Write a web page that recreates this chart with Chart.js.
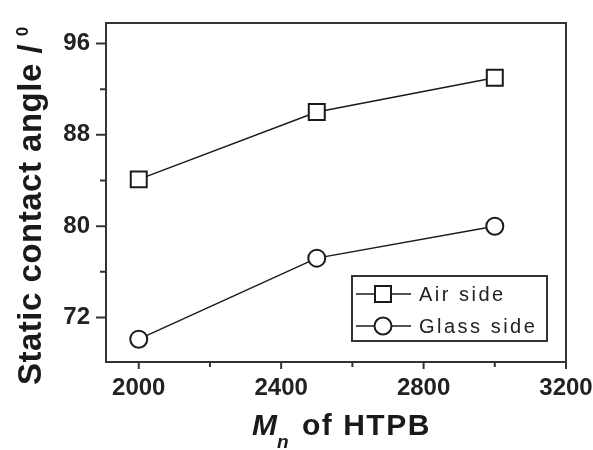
<!DOCTYPE html>
<html>
<head>
<meta charset="utf-8">
<script src="https://cdn.jsdelivr.net/npm/chart.js@4/dist/chart.umd.min.js"></script>
<style>
  html, body { margin: 0; padding: 0; background: #fff; }
  #wrap { width: 593px; height: 450px; }
</style>
</head>
<body>
<div id="wrap"><canvas id="c"></canvas></div>
<script>
// values
const molWeights = [2000, 2500, 3000]
const airSide = [84.1, 90.0, 93.0]
const glassSide = [70.1, 77.2, 80.0]
const xMajor = [2000, 2400, 2800, 3200]
const xMinor = [2200, 2600, 3000]
const yMajor = [72, 80, 88, 96]
const yMinor = [76, 84, 92]
const seriesNames = ['Air side', 'Glass side']

const ink = '#1a1a1a'
const frame = '#333'

function drawMarker(ctx, style, x, y) {
  ctx.save()
  ctx.fillStyle = '#fff'
  ctx.strokeStyle = ink
  ctx.lineWidth = 2
  ctx.beginPath()
  if (style === 'rect') ctx.rect(x - 8, y - 8, 16, 16)
  else ctx.arc(x, y, 8.5, 0, Math.PI * 2)
  ctx.fill()
  ctx.stroke()
  ctx.restore()
}

const axesPlugin = {
  id: 'axesPlugin',
  afterDraw(chart) {
    const { ctx, chartArea: a, scales } = chart
    const xs = scales.x, ys = scales.y
    ctx.save()
    // frame
    ctx.strokeStyle = frame
    ctx.lineWidth = 2
    ctx.strokeRect(a.left, a.top, a.right - a.left, a.bottom - a.top)
    // ticks, pointing out
    ctx.beginPath()
    xMajor.forEach(v => { const p = xs.getPixelForValue(v); ctx.moveTo(p, a.bottom); ctx.lineTo(p, a.bottom + 7) })
    xMinor.forEach(v => { const p = xs.getPixelForValue(v); ctx.moveTo(p, a.bottom); ctx.lineTo(p, a.bottom + 5) })
    yMajor.forEach(v => { const p = ys.getPixelForValue(v); ctx.moveTo(a.left, p); ctx.lineTo(a.left - 10, p) })
    yMinor.forEach(v => { const p = ys.getPixelForValue(v); ctx.moveTo(a.left, p); ctx.lineTo(a.left - 6, p) })
    ctx.stroke()

    // legend
    ctx.lineWidth = 2
    ctx.strokeRect(352, 276, 195, 65)
    const rows = [294, 326]
    const styles = ['rect', 'circle']
    rows.forEach((ry, i) => {
      ctx.strokeStyle = ink
      ctx.lineWidth = 1.5
      ctx.beginPath()
      ctx.moveTo(356, ry)
      ctx.lineTo(411, ry)
      ctx.stroke()
      drawMarker(ctx, styles[i], 383, ry)
      ctx.fillStyle = '#222'
      ctx.font = '20px "Liberation Sans", Arial, sans-serif'
      ctx.letterSpacing = '2.5px'
      ctx.textBaseline = 'middle'
      ctx.textAlign = 'left'
      ctx.fillText(seriesNames[i], 419, ry + 1)
    })

    // x title: M_n of HTPB
    ctx.fillStyle = ink
    ctx.textBaseline = 'alphabetic'
    ctx.letterSpacing = '0px'
    ctx.font = 'italic bold 30px "Liberation Sans", Arial, sans-serif'
    ctx.fillText('M', 252, 435)
    ctx.font = 'italic bold 19px "Liberation Sans", Arial, sans-serif'
    ctx.fillText('n', 277, 448)
    ctx.font = 'bold 30px "Liberation Sans", Arial, sans-serif'
    ctx.letterSpacing = '1.5px'
    ctx.fillText('of HTPB', 302, 435)

    // y title, rotated
    ctx.save()
    ctx.translate(41, 385)
    ctx.rotate(-Math.PI / 2)
    ctx.letterSpacing = '0.5px'
    ctx.font = 'bold 33px "Liberation Sans", Arial, sans-serif'
    const main = 'Static contact angle / '
    ctx.fillText(main, 0, 0)
    const w = ctx.measureText(main).width
    ctx.font = 'bold 17px "Liberation Sans", Arial, sans-serif'
    ctx.fillText('0', w - 2, -13)
    ctx.restore()

    ctx.restore()
  }
}

const tickFont = { family: '"Liberation Sans", Arial, sans-serif', size: 24, weight: 'bold' }

new Chart(document.getElementById('c'), {
  type: 'line',
  data: {
    datasets: [
      {
        label: seriesNames[0],
        data: molWeights.map((m, i) => ({ x: m, y: airSide[i] })),
        borderColor: ink,
        borderWidth: 1.5,
        pointStyle: 'rect',
        pointRadius: 11.3,
        pointBackgroundColor: '#fff',
        pointBorderColor: ink,
        pointBorderWidth: 2
      },
      {
        label: seriesNames[1],
        data: molWeights.map((m, i) => ({ x: m, y: glassSide[i] })),
        borderColor: ink,
        borderWidth: 1.5,
        pointStyle: 'circle',
        pointRadius: 8.5,
        pointBackgroundColor: '#fff',
        pointBorderColor: ink,
        pointBorderWidth: 2
      }
    ]
  },
  options: {
    responsive: true,
    maintainAspectRatio: false,
    animation: false,
    events: [],
    layout: { padding: { top: 23, right: 27, left: 0, bottom: 0 } },
    plugins: {
      legend: { display: false },
      tooltip: { enabled: false }
    },
    scales: {
      x: {
        type: 'linear',
        min: 1908,
        max: 3200,
        grid: { display: false, drawTicks: false },
        border: { display: false },
        afterBuildTicks: s => { s.ticks = xMajor.map(v => ({ value: v })) },
        afterFit: s => { s.height = 88; s.paddingLeft = 0; s.paddingRight = 0 },
        ticks: { font: tickFont, color: '#222', padding: 12, maxRotation: 0, autoSkip: false, callback: v => String(v) }
      },
      y: {
        min: 68.1,
        max: 97.8,
        grid: { display: false, drawTicks: false },
        border: { display: false },
        afterBuildTicks: s => { s.ticks = yMajor.map(v => ({ value: v })) },
        afterFit: s => { s.width = 106; s.paddingTop = 0; s.paddingBottom = 0 },
        ticks: { font: tickFont, color: '#222', padding: 16, callback: v => String(v) }
      }
    }
  },
  plugins: [axesPlugin]
})
</script>
</body>
</html>
